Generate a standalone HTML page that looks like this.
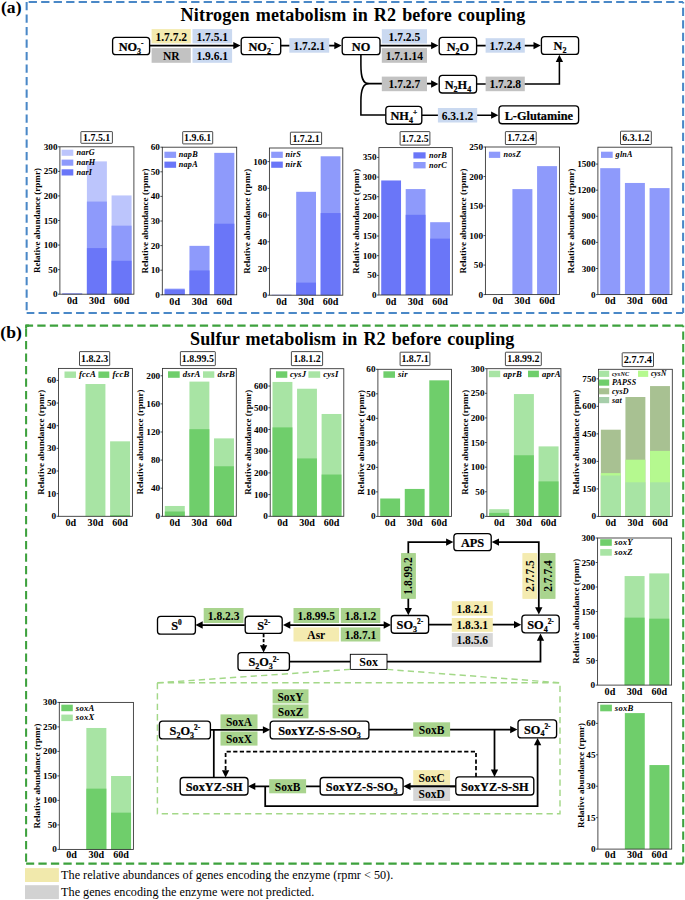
<!DOCTYPE html>
<html><head><meta charset="utf-8"><title>Figure</title>
<style>html,body{margin:0;padding:0;background:#fff;}svg{display:block;}svg text{font-family:"Liberation Serif",serif;}svg text.b{stroke:#000;stroke-width:0.22px;}</style>
</head><body>
<svg width="685" height="900" viewBox="0 0 685 900">
<rect width="685" height="900" fill="#fff"/>
<line x1="26.65" y1="1.95" x2="683.1" y2="1.95" stroke="#4a88c7" stroke-width="2.05" stroke-dasharray="8.3 4.2" stroke-dashoffset="10.5"/>
<line x1="683.1" y1="1.95" x2="683.1" y2="312.9" stroke="#4a88c7" stroke-width="2.05" stroke-dasharray="8.3 4.2" stroke-dashoffset="6.7"/>
<line x1="26.65" y1="312.9" x2="683.1" y2="312.9" stroke="#4a88c7" stroke-width="2.05" stroke-dasharray="8.3 4.2" stroke-dashoffset="0.6"/>
<line x1="26.65" y1="1.95" x2="26.65" y2="312.9" stroke="#4a88c7" stroke-width="2.05" stroke-dasharray="8.3 4.2" stroke-dashoffset="0"/>
<line x1="26.1" y1="325.6" x2="683.2" y2="325.6" stroke="#3da13d" stroke-width="2.05" stroke-dasharray="8.3 4.2" stroke-dashoffset="1.3"/>
<line x1="683.2" y1="325.6" x2="683.2" y2="863.6" stroke="#3da13d" stroke-width="2.05" stroke-dasharray="8.3 4.2" stroke-dashoffset="6.7"/>
<line x1="26.1" y1="863.6" x2="683.2" y2="863.6" stroke="#3da13d" stroke-width="2.05" stroke-dasharray="8.3 4.2" stroke-dashoffset="12.7"/>
<line x1="26.1" y1="325.6" x2="26.1" y2="863.6" stroke="#3da13d" stroke-width="2.05" stroke-dasharray="8.3 4.2" stroke-dashoffset="9.6"/>
<path d="M26.1 328.5 L26.1 325.6 L29 325.6" fill="none" stroke="#3da13d" stroke-width="2.05" />
<text x="1" y="13.3" font-size="17.6" font-weight="bold" font-style="normal" text-anchor="start" fill="#000" >(a)</text>
<text x="0.3" y="338.3" font-size="17.6" font-weight="bold" font-style="normal" text-anchor="start" fill="#000" >(b)</text>
<text x="180.6" y="20.8" font-size="18.1" font-weight="bold" font-style="normal" text-anchor="start" fill="#000" textLength="344.6" lengthAdjust="spacing" word-spacing="1.3">Nitrogen metabolism in R2 before coupling</text>
<text x="190" y="344.7" font-size="18.1" font-weight="bold" font-style="normal" text-anchor="start" fill="#000" textLength="324.4" lengthAdjust="spacing" word-spacing="1.3">Sulfur metabolism in R2 before coupling</text>
<rect x="151.6" y="29.1" width="39.2" height="14.3" fill="#f4ebb0"/>
<text x="171.2" y="40.68" font-size="11.5" font-weight="bold" text-anchor="middle">1.7.7.2</text>
<rect x="192.5" y="29.1" width="39.6" height="14.3" fill="#cad9f0"/>
<text x="212.3" y="40.68" font-size="11.5" font-weight="bold" text-anchor="middle">1.7.5.1</text>
<rect x="151.6" y="48.1" width="39.2" height="14.7" fill="#c2c2c2"/>
<text x="171.2" y="59.88" font-size="11.5" font-weight="bold" text-anchor="middle">NR</text>
<rect x="192.5" y="48.1" width="39.6" height="14.7" fill="#cad9f0"/>
<text x="212.3" y="59.88" font-size="11.5" font-weight="bold" text-anchor="middle">1.9.6.1</text>
<path d="M149.6 45.6 L236 45.6" fill="none" stroke="#000" stroke-width="1.55" />
<polygon points="240.6,45.6 233.3,41.95 233.3,49.25" fill="#000"/>
<path d="M280.7 45.6 L337 45.6" fill="none" stroke="#000" stroke-width="1.55" />
<rect x="289.3" y="38.2" width="39.9" height="14.5" fill="#cad9f0"/>
<text x="309.25" y="49.88" font-size="11.5" font-weight="bold" text-anchor="middle">1.7.2.1</text>
<polygon points="341.6,45.6 334.3,41.95 334.3,49.25" fill="#000"/>
<rect x="381.8" y="29.2" width="45.2" height="14.4" fill="#cad9f0"/>
<text x="404.4" y="40.83" font-size="11.5" font-weight="bold" text-anchor="middle">1.7.2.5</text>
<rect x="381.8" y="48.1" width="45.2" height="14.7" fill="#c2c2c2"/>
<text x="404.4" y="59.88" font-size="11.5" font-weight="bold" text-anchor="middle">1.7.1.14</text>
<path d="M380 45.6 L434 45.6" fill="none" stroke="#000" stroke-width="1.55" />
<polygon points="438.4,45.6 431.1,41.95 431.1,49.25" fill="#000"/>
<path d="M475.5 45.6 L536 45.6" fill="none" stroke="#000" stroke-width="1.55" />
<rect x="485.6" y="38.2" width="39.2" height="14.5" fill="#cad9f0"/>
<text x="505.2" y="49.88" font-size="11.5" font-weight="bold" text-anchor="middle">1.7.2.4</text>
<polygon points="540.8,45.6 533.5,41.95 533.5,49.25" fill="#000"/>
<path d="M360.9 54.6 L360.9 65 C360.9 78 363 83.6 368.5 83.6 L434 83.6" fill="none" stroke="#000" stroke-width="1.55"/>
<path d="M368.5 83.6 C363 83.6 360.9 89 360.9 101 L360.9 114.9 L386 114.9" fill="none" stroke="#000" stroke-width="1.55"/>
<rect x="381.8" y="76.6" width="45.2" height="14.6" fill="#c2c2c2"/>
<text x="404.4" y="88.33" font-size="11.5" font-weight="bold" text-anchor="middle">1.7.2.7</text>
<polygon points="438.4,84 431.1,80.35 431.1,87.65" fill="#000"/>
<path d="M475.5 84 L559.4 84 L559.4 60" fill="none" stroke="#000" stroke-width="1.55" />
<rect x="485.6" y="76.6" width="39.2" height="14.6" fill="#c2c2c2"/>
<text x="505.2" y="88.33" font-size="11.5" font-weight="bold" text-anchor="middle">1.7.2.8</text>
<polygon points="559.4,54.7 555.75,62 563.05,62" fill="#000"/>
<path d="M421.8 115.2 L494 115.2" fill="none" stroke="#000" stroke-width="1.55" />
<rect x="437.9" y="108" width="39.3" height="14.5" fill="#cad9f0"/>
<text x="457.55" y="119.68" font-size="11.5" font-weight="bold" text-anchor="middle">6.3.1.2</text>
<polygon points="498.4,115.2 491.1,111.55 491.1,118.85" fill="#000"/>
<rect x="112.6" y="37.3" width="37" height="17.3" rx="3.2" ry="3.2" fill="#fff" stroke="#000" stroke-width="1.35"/>
<text class="b" x="131.1" y="50.87" font-size="12.3" font-weight="bold" text-anchor="middle"><tspan dy="0" font-size="12.3">NO</tspan><tspan dy="2.71" font-size="8">3</tspan><tspan dy="-7.63" font-size="7.38">-</tspan></text>
<rect x="241.2" y="37.3" width="39.5" height="17.3" rx="3.2" ry="3.2" fill="#fff" stroke="#000" stroke-width="1.35"/>
<text class="b" x="260.95" y="50.87" font-size="12.3" font-weight="bold" text-anchor="middle"><tspan dy="0" font-size="12.3">NO</tspan><tspan dy="2.71" font-size="8">2</tspan><tspan dy="-7.63" font-size="7.38">-</tspan></text>
<rect x="342.2" y="37.3" width="37.8" height="17.3" rx="3.2" ry="3.2" fill="#fff" stroke="#000" stroke-width="1.35"/>
<text class="b" x="361.1" y="50.87" font-size="12.3" font-weight="bold" text-anchor="middle"><tspan dy="0" font-size="12.3">NO</tspan></text>
<rect x="439.2" y="37.3" width="37.4" height="17.3" rx="3.2" ry="3.2" fill="#fff" stroke="#000" stroke-width="1.35"/>
<text class="b" x="457.9" y="50.87" font-size="12.3" font-weight="bold" text-anchor="middle"><tspan dy="0" font-size="12.3">N</tspan><tspan dy="2.71" font-size="8">2</tspan><tspan dy="-2.71" font-size="12.3">O</tspan></text>
<rect x="541.4" y="36.6" width="37.2" height="17.8" rx="3.2" ry="3.2" fill="#fff" stroke="#000" stroke-width="1.35"/>
<text class="b" x="560" y="50.42" font-size="12.3" font-weight="bold" text-anchor="middle"><tspan dy="0" font-size="12.3">N</tspan><tspan dy="2.71" font-size="8">2</tspan></text>
<rect x="439.2" y="75.3" width="37.4" height="17.7" rx="3.2" ry="3.2" fill="#fff" stroke="#000" stroke-width="1.35"/>
<text class="b" x="457.9" y="89.07" font-size="12.3" font-weight="bold" text-anchor="middle"><tspan dy="0" font-size="12.3">N</tspan><tspan dy="2.71" font-size="8">2</tspan><tspan dy="-2.71" font-size="12.3">H</tspan><tspan dy="2.71" font-size="8">4</tspan></text>
<rect x="385.8" y="106.4" width="36" height="17.8" rx="3.2" ry="3.2" fill="#fff" stroke="#000" stroke-width="1.35"/>
<text class="b" x="403.8" y="120.22" font-size="12.3" font-weight="bold" text-anchor="middle"><tspan dy="0" font-size="12.3">NH</tspan><tspan dy="2.71" font-size="8">4</tspan><tspan dy="-7.63" font-size="7.38">+</tspan></text>
<rect x="499" y="105.9" width="79.6" height="17.8" rx="3.2" ry="3.2" fill="#fff" stroke="#000" stroke-width="1.35"/>
<text class="b" x="538.8" y="119.72" font-size="12.3" font-weight="bold" text-anchor="middle"><tspan dy="0" font-size="12.3">L-Glutamine</tspan></text>
<rect x="62.24" y="293.41" width="19.98" height="0.79" fill="#8e9afb"/>
<rect x="62.24" y="293.71" width="19.98" height="0.49" fill="#6a76f8"/>
<rect x="86.91" y="161.39" width="19.98" height="132.81" fill="#bcc5fc"/>
<rect x="86.91" y="201.58" width="19.98" height="92.62" fill="#8e9afb"/>
<rect x="86.91" y="248.11" width="19.98" height="46.09" fill="#6a76f8"/>
<rect x="111.58" y="195.44" width="19.98" height="98.76" fill="#bcc5fc"/>
<rect x="111.58" y="225.66" width="19.98" height="68.54" fill="#8e9afb"/>
<rect x="111.58" y="260.79" width="19.98" height="33.41" fill="#6a76f8"/>
<rect x="59.9" y="146.8" width="74" height="147.4" fill="none" stroke="#2e2e2e" stroke-width="0.85"/>
<line x1="58" y1="294.2" x2="59.9" y2="294.2" stroke="#262626" stroke-width="0.8"/>
<text x="57.5" y="297.24" font-size="9.2" font-weight="bold" font-style="normal" text-anchor="end" fill="#000" >0</text>
<line x1="58" y1="269.63" x2="59.9" y2="269.63" stroke="#262626" stroke-width="0.8"/>
<text x="57.5" y="272.67" font-size="9.2" font-weight="bold" font-style="normal" text-anchor="end" fill="#000" >50</text>
<line x1="58" y1="245.07" x2="59.9" y2="245.07" stroke="#262626" stroke-width="0.8"/>
<text x="57.5" y="248.1" font-size="9.2" font-weight="bold" font-style="normal" text-anchor="end" fill="#000" >100</text>
<line x1="58" y1="220.5" x2="59.9" y2="220.5" stroke="#262626" stroke-width="0.8"/>
<text x="57.5" y="223.54" font-size="9.2" font-weight="bold" font-style="normal" text-anchor="end" fill="#000" >150</text>
<line x1="58" y1="195.93" x2="59.9" y2="195.93" stroke="#262626" stroke-width="0.8"/>
<text x="57.5" y="198.97" font-size="9.2" font-weight="bold" font-style="normal" text-anchor="end" fill="#000" >200</text>
<line x1="58" y1="171.37" x2="59.9" y2="171.37" stroke="#262626" stroke-width="0.8"/>
<text x="57.5" y="174.4" font-size="9.2" font-weight="bold" font-style="normal" text-anchor="end" fill="#000" >250</text>
<line x1="58" y1="146.8" x2="59.9" y2="146.8" stroke="#262626" stroke-width="0.8"/>
<text x="57.5" y="149.84" font-size="9.2" font-weight="bold" font-style="normal" text-anchor="end" fill="#000" >300</text>
<text x="72.23" y="303.9" font-size="10.1" font-weight="bold" font-style="normal" text-anchor="middle" fill="#000" >0d</text>
<text x="96.9" y="303.9" font-size="10.1" font-weight="bold" font-style="normal" text-anchor="middle" fill="#000" >30d</text>
<text x="121.57" y="303.9" font-size="10.1" font-weight="bold" font-style="normal" text-anchor="middle" fill="#000" >60d</text>
<text transform="translate(40.42,220.6) rotate(-90)" font-size="9.05" font-weight="bold" text-anchor="middle">Relative abundance (rpmr)</text>
<rect x="80.9" y="131.6" width="31.5" height="11.7" rx="0.5" fill="#fff" stroke="#2a2a2a" stroke-width="0.85"/>
<text x="96.65" y="140.72" font-size="9.9" font-weight="bold" font-style="normal" text-anchor="middle" fill="#000" >1.7.5.1</text>
<rect x="61.6" y="149.7" width="11.7" height="6.1" fill="#bcc5fc"/>
<text x="76.4" y="155.21" font-size="8.2" font-weight="bold" font-style="italic" text-anchor="start" fill="#000" letter-spacing="0.2">narG</text>
<rect x="61.6" y="159.6" width="11.7" height="6.1" fill="#8e9afb"/>
<text x="76.4" y="165.11" font-size="8.2" font-weight="bold" font-style="italic" text-anchor="start" fill="#000" letter-spacing="0.2">narH</text>
<rect x="61.6" y="169.3" width="11.7" height="6.2" fill="#6a76f8"/>
<text x="76.4" y="174.86" font-size="8.2" font-weight="bold" font-style="italic" text-anchor="start" fill="#000" letter-spacing="0.2">narI</text>
<rect x="164.66" y="288.65" width="20.09" height="6.15" fill="#8e9afb"/>
<rect x="164.66" y="289.63" width="20.09" height="5.17" fill="#6a76f8"/>
<rect x="189.46" y="245.85" width="20.09" height="48.95" fill="#8e9afb"/>
<rect x="189.46" y="270.45" width="20.09" height="24.35" fill="#6a76f8"/>
<rect x="214.26" y="152.86" width="20.09" height="141.94" fill="#8e9afb"/>
<rect x="214.26" y="223.71" width="20.09" height="71.09" fill="#6a76f8"/>
<rect x="162.3" y="147.2" width="74.4" height="147.6" fill="none" stroke="#2e2e2e" stroke-width="0.85"/>
<line x1="160.4" y1="294.8" x2="162.3" y2="294.8" stroke="#262626" stroke-width="0.8"/>
<text x="159.9" y="297.84" font-size="9.2" font-weight="bold" font-style="normal" text-anchor="end" fill="#000" >0</text>
<line x1="160.4" y1="270.2" x2="162.3" y2="270.2" stroke="#262626" stroke-width="0.8"/>
<text x="159.9" y="273.24" font-size="9.2" font-weight="bold" font-style="normal" text-anchor="end" fill="#000" >10</text>
<line x1="160.4" y1="245.6" x2="162.3" y2="245.6" stroke="#262626" stroke-width="0.8"/>
<text x="159.9" y="248.64" font-size="9.2" font-weight="bold" font-style="normal" text-anchor="end" fill="#000" >20</text>
<line x1="160.4" y1="221" x2="162.3" y2="221" stroke="#262626" stroke-width="0.8"/>
<text x="159.9" y="224.04" font-size="9.2" font-weight="bold" font-style="normal" text-anchor="end" fill="#000" >30</text>
<line x1="160.4" y1="196.4" x2="162.3" y2="196.4" stroke="#262626" stroke-width="0.8"/>
<text x="159.9" y="199.44" font-size="9.2" font-weight="bold" font-style="normal" text-anchor="end" fill="#000" >40</text>
<line x1="160.4" y1="171.8" x2="162.3" y2="171.8" stroke="#262626" stroke-width="0.8"/>
<text x="159.9" y="174.84" font-size="9.2" font-weight="bold" font-style="normal" text-anchor="end" fill="#000" >50</text>
<line x1="160.4" y1="147.2" x2="162.3" y2="147.2" stroke="#262626" stroke-width="0.8"/>
<text x="159.9" y="150.24" font-size="9.2" font-weight="bold" font-style="normal" text-anchor="end" fill="#000" >60</text>
<text x="174.7" y="304.5" font-size="10.1" font-weight="bold" font-style="normal" text-anchor="middle" fill="#000" >0d</text>
<text x="199.5" y="304.5" font-size="10.1" font-weight="bold" font-style="normal" text-anchor="middle" fill="#000" >30d</text>
<text x="224.3" y="304.5" font-size="10.1" font-weight="bold" font-style="normal" text-anchor="middle" fill="#000" >60d</text>
<text transform="translate(148.02,221) rotate(-90)" font-size="9.05" font-weight="bold" text-anchor="middle">Relative abundance (rpmr)</text>
<rect x="182.7" y="131.6" width="30" height="12.3" rx="0.5" fill="#fff" stroke="#2a2a2a" stroke-width="0.85"/>
<text x="197.7" y="141.02" font-size="9.9" font-weight="bold" font-style="normal" text-anchor="middle" fill="#000" >1.9.6.1</text>
<rect x="164.4" y="151.7" width="11.7" height="6.2" fill="#8e9afb"/>
<text x="178.8" y="157.26" font-size="8.2" font-weight="bold" font-style="italic" text-anchor="start" fill="#000" letter-spacing="0.2">napB</text>
<rect x="164.4" y="161.6" width="11.7" height="6.2" fill="#6a76f8"/>
<text x="178.8" y="167.16" font-size="8.2" font-weight="bold" font-style="italic" text-anchor="start" fill="#000" letter-spacing="0.2">napA</text>
<rect x="271.72" y="294.8" width="19.82" height="0.4" fill="#6a76f8"/>
<rect x="296.19" y="191.81" width="19.82" height="103.39" fill="#8e9afb"/>
<rect x="296.19" y="282.64" width="19.82" height="12.56" fill="#6a76f8"/>
<rect x="320.66" y="156.28" width="19.82" height="138.92" fill="#8e9afb"/>
<rect x="320.66" y="213.05" width="19.82" height="82.15" fill="#6a76f8"/>
<rect x="269.4" y="148" width="73.4" height="147.2" fill="none" stroke="#2e2e2e" stroke-width="0.85"/>
<line x1="267.5" y1="295.2" x2="269.4" y2="295.2" stroke="#262626" stroke-width="0.8"/>
<text x="267" y="298.24" font-size="9.2" font-weight="bold" font-style="normal" text-anchor="end" fill="#000" >0</text>
<line x1="267.5" y1="268.48" x2="269.4" y2="268.48" stroke="#262626" stroke-width="0.8"/>
<text x="267" y="271.52" font-size="9.2" font-weight="bold" font-style="normal" text-anchor="end" fill="#000" >20</text>
<line x1="267.5" y1="241.77" x2="269.4" y2="241.77" stroke="#262626" stroke-width="0.8"/>
<text x="267" y="244.81" font-size="9.2" font-weight="bold" font-style="normal" text-anchor="end" fill="#000" >40</text>
<line x1="267.5" y1="215.05" x2="269.4" y2="215.05" stroke="#262626" stroke-width="0.8"/>
<text x="267" y="218.09" font-size="9.2" font-weight="bold" font-style="normal" text-anchor="end" fill="#000" >60</text>
<line x1="267.5" y1="188.34" x2="269.4" y2="188.34" stroke="#262626" stroke-width="0.8"/>
<text x="267" y="191.38" font-size="9.2" font-weight="bold" font-style="normal" text-anchor="end" fill="#000" >80</text>
<line x1="267.5" y1="161.62" x2="269.4" y2="161.62" stroke="#262626" stroke-width="0.8"/>
<text x="267" y="164.66" font-size="9.2" font-weight="bold" font-style="normal" text-anchor="end" fill="#000" >100</text>
<text x="281.63" y="304.9" font-size="10.1" font-weight="bold" font-style="normal" text-anchor="middle" fill="#000" >0d</text>
<text x="306.1" y="304.9" font-size="10.1" font-weight="bold" font-style="normal" text-anchor="middle" fill="#000" >30d</text>
<text x="330.57" y="304.9" font-size="10.1" font-weight="bold" font-style="normal" text-anchor="middle" fill="#000" >60d</text>
<text transform="translate(250.22,221.3) rotate(-90)" font-size="9.05" font-weight="bold" text-anchor="middle">Relative abundance (rpmr)</text>
<rect x="290.4" y="132.2" width="31.2" height="12.3" rx="0.5" fill="#fff" stroke="#2a2a2a" stroke-width="0.85"/>
<text x="306" y="141.62" font-size="9.9" font-weight="bold" font-style="normal" text-anchor="middle" fill="#000" >1.7.2.1</text>
<rect x="271.2" y="151.7" width="11.6" height="6.2" fill="#8e9afb"/>
<text x="285.6" y="157.26" font-size="8.2" font-weight="bold" font-style="italic" text-anchor="start" fill="#000" letter-spacing="0.2">nirS</text>
<rect x="271.2" y="161.6" width="11.6" height="6.2" fill="#6a76f8"/>
<text x="285.6" y="167.16" font-size="8.2" font-weight="bold" font-style="italic" text-anchor="start" fill="#000" letter-spacing="0.2">nirK</text>
<rect x="381.22" y="180.46" width="19.82" height="114.54" fill="#6a76f8"/>
<rect x="405.69" y="189.07" width="19.82" height="105.93" fill="#8e9afb"/>
<rect x="405.69" y="214.81" width="19.82" height="80.19" fill="#6a76f8"/>
<rect x="430.16" y="222.2" width="19.82" height="72.8" fill="#8e9afb"/>
<rect x="430.16" y="238.63" width="19.82" height="56.37" fill="#6a76f8"/>
<rect x="378.9" y="147.6" width="73.4" height="147.4" fill="none" stroke="#2e2e2e" stroke-width="0.85"/>
<line x1="377" y1="295" x2="378.9" y2="295" stroke="#262626" stroke-width="0.8"/>
<text x="376.5" y="298.04" font-size="9.2" font-weight="bold" font-style="normal" text-anchor="end" fill="#000" >0</text>
<line x1="377" y1="275.35" x2="378.9" y2="275.35" stroke="#262626" stroke-width="0.8"/>
<text x="376.5" y="278.38" font-size="9.2" font-weight="bold" font-style="normal" text-anchor="end" fill="#000" >50</text>
<line x1="377" y1="255.69" x2="378.9" y2="255.69" stroke="#262626" stroke-width="0.8"/>
<text x="376.5" y="258.73" font-size="9.2" font-weight="bold" font-style="normal" text-anchor="end" fill="#000" >100</text>
<line x1="377" y1="236.04" x2="378.9" y2="236.04" stroke="#262626" stroke-width="0.8"/>
<text x="376.5" y="239.08" font-size="9.2" font-weight="bold" font-style="normal" text-anchor="end" fill="#000" >150</text>
<line x1="377" y1="216.39" x2="378.9" y2="216.39" stroke="#262626" stroke-width="0.8"/>
<text x="376.5" y="219.42" font-size="9.2" font-weight="bold" font-style="normal" text-anchor="end" fill="#000" >200</text>
<line x1="377" y1="196.73" x2="378.9" y2="196.73" stroke="#262626" stroke-width="0.8"/>
<text x="376.5" y="199.77" font-size="9.2" font-weight="bold" font-style="normal" text-anchor="end" fill="#000" >250</text>
<line x1="377" y1="177.08" x2="378.9" y2="177.08" stroke="#262626" stroke-width="0.8"/>
<text x="376.5" y="180.12" font-size="9.2" font-weight="bold" font-style="normal" text-anchor="end" fill="#000" >300</text>
<line x1="377" y1="157.43" x2="378.9" y2="157.43" stroke="#262626" stroke-width="0.8"/>
<text x="376.5" y="160.46" font-size="9.2" font-weight="bold" font-style="normal" text-anchor="end" fill="#000" >350</text>
<text x="391.13" y="304.7" font-size="10.1" font-weight="bold" font-style="normal" text-anchor="middle" fill="#000" >0d</text>
<text x="415.6" y="304.7" font-size="10.1" font-weight="bold" font-style="normal" text-anchor="middle" fill="#000" >30d</text>
<text x="440.07" y="304.7" font-size="10.1" font-weight="bold" font-style="normal" text-anchor="middle" fill="#000" >60d</text>
<text transform="translate(359.41,221.2) rotate(-90)" font-size="9.05" font-weight="bold" text-anchor="middle">Relative abundance (rpmr)</text>
<rect x="400.1" y="131.6" width="29.8" height="13.5" rx="0.5" fill="#fff" stroke="#2a2a2a" stroke-width="0.85"/>
<text x="415" y="141.62" font-size="9.9" font-weight="bold" font-style="normal" text-anchor="middle" fill="#000" >1.7.2.5</text>
<rect x="413.4" y="152.3" width="12.2" height="6.2" fill="#6a76f8"/>
<text x="428.9" y="157.86" font-size="8.2" font-weight="bold" font-style="italic" text-anchor="start" fill="#000" letter-spacing="0.2">norB</text>
<rect x="413.4" y="162" width="12.2" height="6.4" fill="#8e9afb"/>
<text x="428.9" y="167.66" font-size="8.2" font-weight="bold" font-style="italic" text-anchor="start" fill="#000" letter-spacing="0.2">norC</text>
<rect x="512.41" y="189.1" width="19.98" height="105.5" fill="#8e9afb"/>
<rect x="537.08" y="166.13" width="19.98" height="128.47" fill="#8e9afb"/>
<rect x="485.4" y="147" width="74" height="147.6" fill="none" stroke="#2e2e2e" stroke-width="0.85"/>
<line x1="483.5" y1="294.6" x2="485.4" y2="294.6" stroke="#262626" stroke-width="0.8"/>
<text x="483" y="297.64" font-size="9.2" font-weight="bold" font-style="normal" text-anchor="end" fill="#000" >0</text>
<line x1="483.5" y1="265.08" x2="485.4" y2="265.08" stroke="#262626" stroke-width="0.8"/>
<text x="483" y="268.12" font-size="9.2" font-weight="bold" font-style="normal" text-anchor="end" fill="#000" >50</text>
<line x1="483.5" y1="235.56" x2="485.4" y2="235.56" stroke="#262626" stroke-width="0.8"/>
<text x="483" y="238.6" font-size="9.2" font-weight="bold" font-style="normal" text-anchor="end" fill="#000" >100</text>
<line x1="483.5" y1="206.04" x2="485.4" y2="206.04" stroke="#262626" stroke-width="0.8"/>
<text x="483" y="209.08" font-size="9.2" font-weight="bold" font-style="normal" text-anchor="end" fill="#000" >150</text>
<line x1="483.5" y1="176.52" x2="485.4" y2="176.52" stroke="#262626" stroke-width="0.8"/>
<text x="483" y="179.56" font-size="9.2" font-weight="bold" font-style="normal" text-anchor="end" fill="#000" >200</text>
<line x1="483.5" y1="147" x2="485.4" y2="147" stroke="#262626" stroke-width="0.8"/>
<text x="483" y="150.04" font-size="9.2" font-weight="bold" font-style="normal" text-anchor="end" fill="#000" >250</text>
<text x="497.73" y="304.3" font-size="10.1" font-weight="bold" font-style="normal" text-anchor="middle" fill="#000" >0d</text>
<text x="522.4" y="304.3" font-size="10.1" font-weight="bold" font-style="normal" text-anchor="middle" fill="#000" >30d</text>
<text x="547.07" y="304.3" font-size="10.1" font-weight="bold" font-style="normal" text-anchor="middle" fill="#000" >60d</text>
<text transform="translate(465.91,221) rotate(-90)" font-size="9.05" font-weight="bold" text-anchor="middle">Relative abundance (rpmr)</text>
<rect x="505.4" y="131.6" width="30.8" height="12.9" rx="0.5" fill="#fff" stroke="#2a2a2a" stroke-width="0.85"/>
<text x="520.8" y="141.32" font-size="9.9" font-weight="bold" font-style="normal" text-anchor="middle" fill="#000" >1.7.2.4</text>
<rect x="488.9" y="151.7" width="11.3" height="6.2" fill="#8e9afb"/>
<text x="503.5" y="157.26" font-size="8.2" font-weight="bold" font-style="italic" text-anchor="start" fill="#000" letter-spacing="0.2">nosZ</text>
<rect x="600.24" y="168.17" width="19.98" height="126.43" fill="#8e9afb"/>
<rect x="624.91" y="182.96" width="19.98" height="111.64" fill="#8e9afb"/>
<rect x="649.58" y="188.1" width="19.98" height="106.5" fill="#8e9afb"/>
<rect x="597.9" y="147.2" width="74" height="147.4" fill="none" stroke="#2e2e2e" stroke-width="0.85"/>
<line x1="596" y1="294.6" x2="597.9" y2="294.6" stroke="#262626" stroke-width="0.8"/>
<text x="595.5" y="297.64" font-size="9.2" font-weight="bold" font-style="normal" text-anchor="end" fill="#000" >0</text>
<line x1="596" y1="268.5" x2="597.9" y2="268.5" stroke="#262626" stroke-width="0.8"/>
<text x="595.5" y="271.53" font-size="9.2" font-weight="bold" font-style="normal" text-anchor="end" fill="#000" >300</text>
<line x1="596" y1="242.39" x2="597.9" y2="242.39" stroke="#262626" stroke-width="0.8"/>
<text x="595.5" y="245.43" font-size="9.2" font-weight="bold" font-style="normal" text-anchor="end" fill="#000" >600</text>
<line x1="596" y1="216.29" x2="597.9" y2="216.29" stroke="#262626" stroke-width="0.8"/>
<text x="595.5" y="219.32" font-size="9.2" font-weight="bold" font-style="normal" text-anchor="end" fill="#000" >900</text>
<line x1="596" y1="190.18" x2="597.9" y2="190.18" stroke="#262626" stroke-width="0.8"/>
<text x="595.5" y="193.22" font-size="9.2" font-weight="bold" font-style="normal" text-anchor="end" fill="#000" >1200</text>
<line x1="596" y1="164.08" x2="597.9" y2="164.08" stroke="#262626" stroke-width="0.8"/>
<text x="595.5" y="167.12" font-size="9.2" font-weight="bold" font-style="normal" text-anchor="end" fill="#000" >1500</text>
<text x="610.23" y="304.3" font-size="10.1" font-weight="bold" font-style="normal" text-anchor="middle" fill="#000" >0d</text>
<text x="634.9" y="304.3" font-size="10.1" font-weight="bold" font-style="normal" text-anchor="middle" fill="#000" >30d</text>
<text x="659.57" y="304.3" font-size="10.1" font-weight="bold" font-style="normal" text-anchor="middle" fill="#000" >60d</text>
<text transform="translate(573.92,221) rotate(-90)" font-size="9.05" font-weight="bold" text-anchor="middle">Relative abundance (rpmr)</text>
<rect x="620.5" y="131.2" width="30.8" height="13.3" rx="0.5" fill="#fff" stroke="#2a2a2a" stroke-width="0.85"/>
<text x="635.9" y="141.12" font-size="9.9" font-weight="bold" font-style="normal" text-anchor="middle" fill="#000" >6.3.1.2</text>
<rect x="601" y="151.7" width="11.7" height="6.2" fill="#8e9afb"/>
<text x="615.6" y="157.26" font-size="8.2" font-weight="bold" font-style="italic" text-anchor="start" fill="#000" letter-spacing="0.2">glnA</text>
<rect x="85.47" y="384.03" width="19.95" height="132.27" fill="#a8e4a4"/>
<rect x="110.11" y="441.33" width="19.95" height="74.97" fill="#a8e4a4"/>
<rect x="110.11" y="515.17" width="19.95" height="1.13" fill="#6fce6b"/>
<rect x="58.5" y="368.4" width="73.9" height="147.9" fill="none" stroke="#2e2e2e" stroke-width="0.85"/>
<line x1="56.6" y1="516.3" x2="58.5" y2="516.3" stroke="#262626" stroke-width="0.8"/>
<text x="56.1" y="519.34" font-size="9.2" font-weight="bold" font-style="normal" text-anchor="end" fill="#000" >0</text>
<line x1="56.6" y1="493.65" x2="58.5" y2="493.65" stroke="#262626" stroke-width="0.8"/>
<text x="56.1" y="496.69" font-size="9.2" font-weight="bold" font-style="normal" text-anchor="end" fill="#000" >10</text>
<line x1="56.6" y1="471" x2="58.5" y2="471" stroke="#262626" stroke-width="0.8"/>
<text x="56.1" y="474.04" font-size="9.2" font-weight="bold" font-style="normal" text-anchor="end" fill="#000" >20</text>
<line x1="56.6" y1="448.35" x2="58.5" y2="448.35" stroke="#262626" stroke-width="0.8"/>
<text x="56.1" y="451.39" font-size="9.2" font-weight="bold" font-style="normal" text-anchor="end" fill="#000" >30</text>
<line x1="56.6" y1="425.7" x2="58.5" y2="425.7" stroke="#262626" stroke-width="0.8"/>
<text x="56.1" y="428.74" font-size="9.2" font-weight="bold" font-style="normal" text-anchor="end" fill="#000" >40</text>
<line x1="56.6" y1="403.05" x2="58.5" y2="403.05" stroke="#262626" stroke-width="0.8"/>
<text x="56.1" y="406.09" font-size="9.2" font-weight="bold" font-style="normal" text-anchor="end" fill="#000" >50</text>
<line x1="56.6" y1="380.4" x2="58.5" y2="380.4" stroke="#262626" stroke-width="0.8"/>
<text x="56.1" y="383.44" font-size="9.2" font-weight="bold" font-style="normal" text-anchor="end" fill="#000" >60</text>
<text x="70.82" y="526.3" font-size="10.1" font-weight="bold" font-style="normal" text-anchor="middle" fill="#000" >0d</text>
<text x="95.45" y="526.3" font-size="10.1" font-weight="bold" font-style="normal" text-anchor="middle" fill="#000" >30d</text>
<text x="120.08" y="526.3" font-size="10.1" font-weight="bold" font-style="normal" text-anchor="middle" fill="#000" >60d</text>
<text transform="translate(44.12,442.2) rotate(-90)" font-size="9.05" font-weight="bold" text-anchor="middle">Relative abundance (rpmr)</text>
<rect x="79.5" y="351.6" width="30.2" height="14" rx="0.5" fill="#fff" stroke="#2a2a2a" stroke-width="0.85"/>
<text x="94.6" y="361.87" font-size="9.9" font-weight="bold" font-style="normal" text-anchor="middle" fill="#000" >1.8.2.3</text>
<rect x="64.5" y="371.5" width="11.5" height="6.4" fill="#a8e4a4"/>
<text x="78.9" y="377.31" font-size="8.7" font-weight="bold" font-style="italic" text-anchor="start" fill="#000" letter-spacing="0.2">fccA</text>
<rect x="98.4" y="371.5" width="10.9" height="6.4" fill="#6fce6b"/>
<text x="112.4" y="377.31" font-size="8.7" font-weight="bold" font-style="italic" text-anchor="start" fill="#000" letter-spacing="0.2">fccB</text>
<rect x="164.84" y="505.97" width="19.93" height="10.33" fill="#a8e4a4"/>
<rect x="164.84" y="511.52" width="19.93" height="4.78" fill="#6fce6b"/>
<rect x="189.44" y="381.61" width="19.93" height="134.69" fill="#a8e4a4"/>
<rect x="189.44" y="429.18" width="19.93" height="87.12" fill="#6fce6b"/>
<rect x="214.04" y="438.38" width="19.93" height="77.92" fill="#a8e4a4"/>
<rect x="214.04" y="466.27" width="19.93" height="50.03" fill="#6fce6b"/>
<rect x="162.5" y="368.4" width="73.8" height="147.9" fill="none" stroke="#2e2e2e" stroke-width="0.85"/>
<line x1="160.6" y1="516.3" x2="162.5" y2="516.3" stroke="#262626" stroke-width="0.8"/>
<text x="160.1" y="519.34" font-size="9.2" font-weight="bold" font-style="normal" text-anchor="end" fill="#000" >0</text>
<line x1="160.6" y1="488.2" x2="162.5" y2="488.2" stroke="#262626" stroke-width="0.8"/>
<text x="160.1" y="491.23" font-size="9.2" font-weight="bold" font-style="normal" text-anchor="end" fill="#000" >40</text>
<line x1="160.6" y1="460.09" x2="162.5" y2="460.09" stroke="#262626" stroke-width="0.8"/>
<text x="160.1" y="463.13" font-size="9.2" font-weight="bold" font-style="normal" text-anchor="end" fill="#000" >80</text>
<line x1="160.6" y1="431.99" x2="162.5" y2="431.99" stroke="#262626" stroke-width="0.8"/>
<text x="160.1" y="435.02" font-size="9.2" font-weight="bold" font-style="normal" text-anchor="end" fill="#000" >120</text>
<line x1="160.6" y1="403.88" x2="162.5" y2="403.88" stroke="#262626" stroke-width="0.8"/>
<text x="160.1" y="406.92" font-size="9.2" font-weight="bold" font-style="normal" text-anchor="end" fill="#000" >160</text>
<line x1="160.6" y1="375.78" x2="162.5" y2="375.78" stroke="#262626" stroke-width="0.8"/>
<text x="160.1" y="378.81" font-size="9.2" font-weight="bold" font-style="normal" text-anchor="end" fill="#000" >200</text>
<text x="174.8" y="526.3" font-size="10.1" font-weight="bold" font-style="normal" text-anchor="middle" fill="#000" >0d</text>
<text x="199.4" y="526.3" font-size="10.1" font-weight="bold" font-style="normal" text-anchor="middle" fill="#000" >30d</text>
<text x="224" y="526.3" font-size="10.1" font-weight="bold" font-style="normal" text-anchor="middle" fill="#000" >60d</text>
<text transform="translate(143.02,442) rotate(-90)" font-size="9.05" font-weight="bold" text-anchor="middle">Relative abundance (rpmr)</text>
<rect x="180.4" y="351.6" width="34.9" height="14" rx="0.5" fill="#fff" stroke="#2a2a2a" stroke-width="0.85"/>
<text x="197.85" y="361.87" font-size="9.9" font-weight="bold" font-style="normal" text-anchor="middle" fill="#000" >1.8.99.5</text>
<rect x="168" y="371.3" width="11.7" height="6.5" fill="#6fce6b"/>
<text x="182.8" y="377.16" font-size="8.7" font-weight="bold" font-style="italic" text-anchor="start" fill="#000" letter-spacing="0.2">dsrA</text>
<rect x="203" y="371.3" width="11.3" height="6.5" fill="#a8e4a4"/>
<text x="217.4" y="377.16" font-size="8.7" font-weight="bold" font-style="italic" text-anchor="start" fill="#000" letter-spacing="0.2">dsrB</text>
<rect x="272.53" y="381.94" width="19.87" height="134.36" fill="#a8e4a4"/>
<rect x="272.53" y="427.39" width="19.87" height="88.91" fill="#6fce6b"/>
<rect x="297.06" y="388.73" width="19.87" height="127.57" fill="#a8e4a4"/>
<rect x="297.06" y="458.43" width="19.87" height="57.87" fill="#6fce6b"/>
<rect x="321.6" y="413.98" width="19.87" height="102.32" fill="#a8e4a4"/>
<rect x="321.6" y="474.54" width="19.87" height="41.76" fill="#6fce6b"/>
<rect x="270.2" y="368.7" width="73.6" height="147.6" fill="none" stroke="#2e2e2e" stroke-width="0.85"/>
<line x1="268.3" y1="516.3" x2="270.2" y2="516.3" stroke="#262626" stroke-width="0.8"/>
<text x="267.8" y="519.34" font-size="9.2" font-weight="bold" font-style="normal" text-anchor="end" fill="#000" >0</text>
<line x1="268.3" y1="494.59" x2="270.2" y2="494.59" stroke="#262626" stroke-width="0.8"/>
<text x="267.8" y="497.63" font-size="9.2" font-weight="bold" font-style="normal" text-anchor="end" fill="#000" >100</text>
<line x1="268.3" y1="472.89" x2="270.2" y2="472.89" stroke="#262626" stroke-width="0.8"/>
<text x="267.8" y="475.92" font-size="9.2" font-weight="bold" font-style="normal" text-anchor="end" fill="#000" >200</text>
<line x1="268.3" y1="451.18" x2="270.2" y2="451.18" stroke="#262626" stroke-width="0.8"/>
<text x="267.8" y="454.22" font-size="9.2" font-weight="bold" font-style="normal" text-anchor="end" fill="#000" >300</text>
<line x1="268.3" y1="429.48" x2="270.2" y2="429.48" stroke="#262626" stroke-width="0.8"/>
<text x="267.8" y="432.51" font-size="9.2" font-weight="bold" font-style="normal" text-anchor="end" fill="#000" >400</text>
<line x1="268.3" y1="407.77" x2="270.2" y2="407.77" stroke="#262626" stroke-width="0.8"/>
<text x="267.8" y="410.81" font-size="9.2" font-weight="bold" font-style="normal" text-anchor="end" fill="#000" >500</text>
<line x1="268.3" y1="386.06" x2="270.2" y2="386.06" stroke="#262626" stroke-width="0.8"/>
<text x="267.8" y="389.1" font-size="9.2" font-weight="bold" font-style="normal" text-anchor="end" fill="#000" >600</text>
<text x="282.47" y="526.3" font-size="10.1" font-weight="bold" font-style="normal" text-anchor="middle" fill="#000" >0d</text>
<text x="307" y="526.3" font-size="10.1" font-weight="bold" font-style="normal" text-anchor="middle" fill="#000" >30d</text>
<text x="331.53" y="526.3" font-size="10.1" font-weight="bold" font-style="normal" text-anchor="middle" fill="#000" >60d</text>
<text transform="translate(250.91,442.2) rotate(-90)" font-size="9.05" font-weight="bold" text-anchor="middle">Relative abundance (rpmr)</text>
<rect x="291.4" y="351.6" width="31.2" height="14" rx="0.5" fill="#fff" stroke="#2a2a2a" stroke-width="0.85"/>
<text x="307" y="361.87" font-size="9.9" font-weight="bold" font-style="normal" text-anchor="middle" fill="#000" >1.8.1.2</text>
<rect x="276" y="371.3" width="11.3" height="6.5" fill="#6fce6b"/>
<text x="290" y="377.16" font-size="8.7" font-weight="bold" font-style="italic" text-anchor="start" fill="#000" letter-spacing="0.2">cysJ</text>
<rect x="308.4" y="371.3" width="11.8" height="6.5" fill="#a8e4a4"/>
<text x="323.2" y="377.16" font-size="8.7" font-weight="bold" font-style="italic" text-anchor="start" fill="#000" letter-spacing="0.2">cysI</text>
<rect x="380.23" y="498.5" width="19.87" height="17.9" fill="#6fce6b"/>
<rect x="404.76" y="488.94" width="19.87" height="27.46" fill="#6fce6b"/>
<rect x="429.3" y="380.33" width="19.87" height="136.07" fill="#6fce6b"/>
<rect x="377.9" y="369.3" width="73.6" height="147.1" fill="none" stroke="#2e2e2e" stroke-width="0.85"/>
<line x1="376" y1="516.4" x2="377.9" y2="516.4" stroke="#262626" stroke-width="0.8"/>
<text x="375.5" y="519.44" font-size="9.2" font-weight="bold" font-style="normal" text-anchor="end" fill="#000" >0</text>
<line x1="376" y1="491.88" x2="377.9" y2="491.88" stroke="#262626" stroke-width="0.8"/>
<text x="375.5" y="494.92" font-size="9.2" font-weight="bold" font-style="normal" text-anchor="end" fill="#000" >10</text>
<line x1="376" y1="467.37" x2="377.9" y2="467.37" stroke="#262626" stroke-width="0.8"/>
<text x="375.5" y="470.4" font-size="9.2" font-weight="bold" font-style="normal" text-anchor="end" fill="#000" >20</text>
<line x1="376" y1="442.85" x2="377.9" y2="442.85" stroke="#262626" stroke-width="0.8"/>
<text x="375.5" y="445.89" font-size="9.2" font-weight="bold" font-style="normal" text-anchor="end" fill="#000" >30</text>
<line x1="376" y1="418.33" x2="377.9" y2="418.33" stroke="#262626" stroke-width="0.8"/>
<text x="375.5" y="421.37" font-size="9.2" font-weight="bold" font-style="normal" text-anchor="end" fill="#000" >40</text>
<line x1="376" y1="393.82" x2="377.9" y2="393.82" stroke="#262626" stroke-width="0.8"/>
<text x="375.5" y="396.85" font-size="9.2" font-weight="bold" font-style="normal" text-anchor="end" fill="#000" >50</text>
<line x1="376" y1="369.3" x2="377.9" y2="369.3" stroke="#262626" stroke-width="0.8"/>
<text x="375.5" y="372.34" font-size="9.2" font-weight="bold" font-style="normal" text-anchor="end" fill="#000" >60</text>
<text x="390.17" y="526.3" font-size="10.1" font-weight="bold" font-style="normal" text-anchor="middle" fill="#000" >0d</text>
<text x="414.7" y="526.3" font-size="10.1" font-weight="bold" font-style="normal" text-anchor="middle" fill="#000" >30d</text>
<text x="439.23" y="526.3" font-size="10.1" font-weight="bold" font-style="normal" text-anchor="middle" fill="#000" >60d</text>
<text transform="translate(364.11,442.4) rotate(-90)" font-size="9.05" font-weight="bold" text-anchor="middle">Relative abundance (rpmr)</text>
<rect x="400.1" y="352.2" width="29.8" height="13.4" rx="0.5" fill="#fff" stroke="#2a2a2a" stroke-width="0.85"/>
<text x="415" y="362.17" font-size="9.9" font-weight="bold" font-style="normal" text-anchor="middle" fill="#000" >1.8.7.1</text>
<rect x="383.4" y="371.3" width="11.6" height="6.5" fill="#6fce6b"/>
<text x="398" y="377.16" font-size="8.7" font-weight="bold" font-style="italic" text-anchor="start" fill="#000" letter-spacing="0.2">sir</text>
<rect x="489.24" y="509.21" width="19.98" height="7.19" fill="#a8e4a4"/>
<rect x="489.24" y="512.9" width="19.98" height="3.5" fill="#6fce6b"/>
<rect x="513.91" y="394.06" width="19.98" height="122.34" fill="#a8e4a4"/>
<rect x="513.91" y="455.25" width="19.98" height="61.15" fill="#6fce6b"/>
<rect x="538.58" y="446.39" width="19.98" height="70.01" fill="#a8e4a4"/>
<rect x="538.58" y="481.4" width="19.98" height="35" fill="#6fce6b"/>
<rect x="486.9" y="368.7" width="74" height="147.7" fill="none" stroke="#2e2e2e" stroke-width="0.85"/>
<line x1="485" y1="516.4" x2="486.9" y2="516.4" stroke="#262626" stroke-width="0.8"/>
<text x="484.5" y="519.44" font-size="9.2" font-weight="bold" font-style="normal" text-anchor="end" fill="#000" >0</text>
<line x1="485" y1="491.78" x2="486.9" y2="491.78" stroke="#262626" stroke-width="0.8"/>
<text x="484.5" y="494.82" font-size="9.2" font-weight="bold" font-style="normal" text-anchor="end" fill="#000" >50</text>
<line x1="485" y1="467.17" x2="486.9" y2="467.17" stroke="#262626" stroke-width="0.8"/>
<text x="484.5" y="470.2" font-size="9.2" font-weight="bold" font-style="normal" text-anchor="end" fill="#000" >100</text>
<line x1="485" y1="442.55" x2="486.9" y2="442.55" stroke="#262626" stroke-width="0.8"/>
<text x="484.5" y="445.59" font-size="9.2" font-weight="bold" font-style="normal" text-anchor="end" fill="#000" >150</text>
<line x1="485" y1="417.93" x2="486.9" y2="417.93" stroke="#262626" stroke-width="0.8"/>
<text x="484.5" y="420.97" font-size="9.2" font-weight="bold" font-style="normal" text-anchor="end" fill="#000" >200</text>
<line x1="485" y1="393.32" x2="486.9" y2="393.32" stroke="#262626" stroke-width="0.8"/>
<text x="484.5" y="396.35" font-size="9.2" font-weight="bold" font-style="normal" text-anchor="end" fill="#000" >250</text>
<line x1="485" y1="368.7" x2="486.9" y2="368.7" stroke="#262626" stroke-width="0.8"/>
<text x="484.5" y="371.74" font-size="9.2" font-weight="bold" font-style="normal" text-anchor="end" fill="#000" >300</text>
<text x="499.23" y="526.3" font-size="10.1" font-weight="bold" font-style="normal" text-anchor="middle" fill="#000" >0d</text>
<text x="523.9" y="526.3" font-size="10.1" font-weight="bold" font-style="normal" text-anchor="middle" fill="#000" >30d</text>
<text x="548.57" y="526.3" font-size="10.1" font-weight="bold" font-style="normal" text-anchor="middle" fill="#000" >60d</text>
<text transform="translate(468.01,442.2) rotate(-90)" font-size="9.05" font-weight="bold" text-anchor="middle">Relative abundance (rpmr)</text>
<rect x="505.4" y="352.2" width="35.9" height="13.4" rx="0.5" fill="#fff" stroke="#2a2a2a" stroke-width="0.85"/>
<text x="523.35" y="362.17" font-size="9.9" font-weight="bold" font-style="normal" text-anchor="middle" fill="#000" >1.8.99.2</text>
<rect x="488.9" y="370.7" width="11.3" height="6.5" fill="#a8e4a4"/>
<text x="503.3" y="376.56" font-size="8.7" font-weight="bold" font-style="italic" text-anchor="start" fill="#000" letter-spacing="0.2">aprB</text>
<rect x="528" y="370.7" width="10.9" height="6.5" fill="#6fce6b"/>
<text x="542" y="376.56" font-size="8.7" font-weight="bold" font-style="italic" text-anchor="start" fill="#000" letter-spacing="0.2">aprA</text>
<rect x="600.84" y="429.7" width="19.93" height="86.7" fill="#a8c192"/>
<rect x="600.84" y="473.11" width="19.93" height="43.29" fill="#b5f98f"/>
<rect x="600.84" y="475.5" width="19.93" height="40.9" fill="#a8e4a4"/>
<rect x="625.44" y="397" width="19.93" height="119.4" fill="#a8c192"/>
<rect x="625.44" y="459.69" width="19.93" height="56.71" fill="#b5f98f"/>
<rect x="625.44" y="482.3" width="19.93" height="34.1" fill="#a8e4a4"/>
<rect x="650.04" y="386.08" width="19.93" height="130.32" fill="#a8c192"/>
<rect x="650.04" y="450.9" width="19.93" height="65.5" fill="#b5f98f"/>
<rect x="650.04" y="482.3" width="19.93" height="34.1" fill="#a8e4a4"/>
<rect x="598.5" y="369.3" width="73.8" height="147.1" fill="none" stroke="#2e2e2e" stroke-width="0.85"/>
<line x1="596.6" y1="516.4" x2="598.5" y2="516.4" stroke="#262626" stroke-width="0.8"/>
<text x="596.1" y="519.44" font-size="9.2" font-weight="bold" font-style="normal" text-anchor="end" fill="#000" >0</text>
<line x1="596.6" y1="488.89" x2="598.5" y2="488.89" stroke="#262626" stroke-width="0.8"/>
<text x="596.1" y="491.92" font-size="9.2" font-weight="bold" font-style="normal" text-anchor="end" fill="#000" >150</text>
<line x1="596.6" y1="461.38" x2="598.5" y2="461.38" stroke="#262626" stroke-width="0.8"/>
<text x="596.1" y="464.41" font-size="9.2" font-weight="bold" font-style="normal" text-anchor="end" fill="#000" >300</text>
<line x1="596.6" y1="433.86" x2="598.5" y2="433.86" stroke="#262626" stroke-width="0.8"/>
<text x="596.1" y="436.9" font-size="9.2" font-weight="bold" font-style="normal" text-anchor="end" fill="#000" >450</text>
<line x1="596.6" y1="406.35" x2="598.5" y2="406.35" stroke="#262626" stroke-width="0.8"/>
<text x="596.1" y="409.39" font-size="9.2" font-weight="bold" font-style="normal" text-anchor="end" fill="#000" >600</text>
<line x1="596.6" y1="378.84" x2="598.5" y2="378.84" stroke="#262626" stroke-width="0.8"/>
<text x="596.1" y="381.87" font-size="9.2" font-weight="bold" font-style="normal" text-anchor="end" fill="#000" >750</text>
<text x="610.8" y="526.3" font-size="10.1" font-weight="bold" font-style="normal" text-anchor="middle" fill="#000" >0d</text>
<text x="635.4" y="526.3" font-size="10.1" font-weight="bold" font-style="normal" text-anchor="middle" fill="#000" >30d</text>
<text x="660" y="526.3" font-size="10.1" font-weight="bold" font-style="normal" text-anchor="middle" fill="#000" >60d</text>
<text transform="translate(579.42,442.2) rotate(-90)" font-size="9.05" font-weight="bold" text-anchor="middle">Relative abundance (rpmr)</text>
<rect x="622.2" y="352.8" width="31.3" height="13.8" rx="0.5" fill="#fff" stroke="#2a2a2a" stroke-width="0.85"/>
<text x="637.85" y="363.1" font-size="10.3" font-weight="bold" font-style="normal" text-anchor="middle" fill="#000" >2.7.7.4</text>
<rect x="598.9" y="370.7" width="10.3" height="6.2" fill="#a8e4a4"/>
<text x="611.9" y="375.66" font-size="6.2" font-weight="bold" font-style="italic" text-anchor="start" fill="#000" letter-spacing="0.2">cysNC</text>
<rect x="638" y="370.7" width="10.2" height="6.2" fill="#b5f98f"/>
<text x="650.9" y="376.02" font-size="7.4" font-weight="bold" font-style="italic" text-anchor="start" fill="#000" letter-spacing="0.2">cysN</text>
<rect x="598.9" y="379.5" width="10.3" height="6.2" fill="#6fce6b"/>
<text x="611.9" y="385" font-size="8.0" font-weight="bold" font-style="italic" text-anchor="start" fill="#000" letter-spacing="0.2">PAPSS</text>
<rect x="598.9" y="388.2" width="10.3" height="6.1" fill="#a8c192"/>
<text x="611.9" y="393.65" font-size="8.0" font-weight="bold" font-style="italic" text-anchor="start" fill="#000" letter-spacing="0.2">cysD</text>
<rect x="598.9" y="397" width="10.3" height="6.2" fill="#a6ceaa"/>
<text x="611.9" y="402.5" font-size="8.0" font-weight="bold" font-style="italic" text-anchor="start" fill="#000" letter-spacing="0.2">sat</text>
<rect x="624.61" y="576.05" width="19.98" height="109.05" fill="#a8e4a4"/>
<rect x="624.61" y="617.63" width="19.98" height="67.47" fill="#6fce6b"/>
<rect x="649.28" y="573.4" width="19.98" height="111.7" fill="#a8e4a4"/>
<rect x="649.28" y="618.66" width="19.98" height="66.44" fill="#6fce6b"/>
<rect x="597.6" y="538" width="74" height="147.1" fill="none" stroke="#2e2e2e" stroke-width="0.85"/>
<line x1="595.7" y1="685.1" x2="597.6" y2="685.1" stroke="#262626" stroke-width="0.8"/>
<text x="595.2" y="688.14" font-size="9.2" font-weight="bold" font-style="normal" text-anchor="end" fill="#000" >0</text>
<line x1="595.7" y1="660.58" x2="597.6" y2="660.58" stroke="#262626" stroke-width="0.8"/>
<text x="595.2" y="663.62" font-size="9.2" font-weight="bold" font-style="normal" text-anchor="end" fill="#000" >50</text>
<line x1="595.7" y1="636.07" x2="597.6" y2="636.07" stroke="#262626" stroke-width="0.8"/>
<text x="595.2" y="639.1" font-size="9.2" font-weight="bold" font-style="normal" text-anchor="end" fill="#000" >100</text>
<line x1="595.7" y1="611.55" x2="597.6" y2="611.55" stroke="#262626" stroke-width="0.8"/>
<text x="595.2" y="614.59" font-size="9.2" font-weight="bold" font-style="normal" text-anchor="end" fill="#000" >150</text>
<line x1="595.7" y1="587.03" x2="597.6" y2="587.03" stroke="#262626" stroke-width="0.8"/>
<text x="595.2" y="590.07" font-size="9.2" font-weight="bold" font-style="normal" text-anchor="end" fill="#000" >200</text>
<line x1="595.7" y1="562.52" x2="597.6" y2="562.52" stroke="#262626" stroke-width="0.8"/>
<text x="595.2" y="565.55" font-size="9.2" font-weight="bold" font-style="normal" text-anchor="end" fill="#000" >250</text>
<line x1="595.7" y1="538" x2="597.6" y2="538" stroke="#262626" stroke-width="0.8"/>
<text x="595.2" y="541.04" font-size="9.2" font-weight="bold" font-style="normal" text-anchor="end" fill="#000" >300</text>
<text x="609.93" y="695" font-size="10.1" font-weight="bold" font-style="normal" text-anchor="middle" fill="#000" >0d</text>
<text x="634.6" y="695" font-size="10.1" font-weight="bold" font-style="normal" text-anchor="middle" fill="#000" >30d</text>
<text x="659.27" y="695" font-size="10.1" font-weight="bold" font-style="normal" text-anchor="middle" fill="#000" >60d</text>
<text transform="translate(579.01,611.2) rotate(-90)" font-size="9.05" font-weight="bold" text-anchor="middle">Relative abundance (rpmr)</text>
<rect x="600.2" y="539.2" width="11.6" height="6.6" fill="#6fce6b"/>
<text x="614.6" y="545.11" font-size="8.7" font-weight="bold" font-style="italic" text-anchor="start" fill="#000" letter-spacing="0.2">soxY</text>
<rect x="600.2" y="549.1" width="11.6" height="6.6" fill="#a8e4a4"/>
<text x="614.6" y="555.01" font-size="8.7" font-weight="bold" font-style="italic" text-anchor="start" fill="#000" letter-spacing="0.2">soxZ</text>
<rect x="624.84" y="713.09" width="19.93" height="136.01" fill="#6fce6b"/>
<rect x="649.44" y="765.06" width="19.93" height="84.04" fill="#6fce6b"/>
<rect x="597.9" y="702.4" width="73.8" height="146.7" fill="none" stroke="#2e2e2e" stroke-width="0.85"/>
<line x1="596" y1="849.1" x2="597.9" y2="849.1" stroke="#262626" stroke-width="0.8"/>
<text x="595.5" y="852.14" font-size="9.2" font-weight="bold" font-style="normal" text-anchor="end" fill="#000" >0</text>
<line x1="596" y1="817.66" x2="597.9" y2="817.66" stroke="#262626" stroke-width="0.8"/>
<text x="595.5" y="820.7" font-size="9.2" font-weight="bold" font-style="normal" text-anchor="end" fill="#000" >15</text>
<line x1="596" y1="786.23" x2="597.9" y2="786.23" stroke="#262626" stroke-width="0.8"/>
<text x="595.5" y="789.26" font-size="9.2" font-weight="bold" font-style="normal" text-anchor="end" fill="#000" >30</text>
<line x1="596" y1="754.79" x2="597.9" y2="754.79" stroke="#262626" stroke-width="0.8"/>
<text x="595.5" y="757.83" font-size="9.2" font-weight="bold" font-style="normal" text-anchor="end" fill="#000" >45</text>
<line x1="596" y1="723.36" x2="597.9" y2="723.36" stroke="#262626" stroke-width="0.8"/>
<text x="595.5" y="726.39" font-size="9.2" font-weight="bold" font-style="normal" text-anchor="end" fill="#000" >60</text>
<text x="610.2" y="858.2" font-size="10.1" font-weight="bold" font-style="normal" text-anchor="middle" fill="#000" >0d</text>
<text x="634.8" y="858.2" font-size="10.1" font-weight="bold" font-style="normal" text-anchor="middle" fill="#000" >30d</text>
<text x="659.4" y="858.2" font-size="10.1" font-weight="bold" font-style="normal" text-anchor="middle" fill="#000" >60d</text>
<text transform="translate(583.51,775.5) rotate(-90)" font-size="9.05" font-weight="bold" text-anchor="middle">Relative abundance (rpmr)</text>
<rect x="600.2" y="704.7" width="11.7" height="6.6" fill="#6fce6b"/>
<text x="614.8" y="710.61" font-size="8.7" font-weight="bold" font-style="italic" text-anchor="start" fill="#000" letter-spacing="0.2">soxB</text>
<rect x="86.35" y="727.98" width="20.01" height="121.42" fill="#a8e4a4"/>
<rect x="86.35" y="788.64" width="20.01" height="60.76" fill="#6fce6b"/>
<rect x="111.05" y="776" width="20.01" height="73.4" fill="#a8e4a4"/>
<rect x="111.05" y="812.65" width="20.01" height="36.75" fill="#6fce6b"/>
<rect x="59.3" y="702.4" width="74.1" height="147" fill="none" stroke="#2e2e2e" stroke-width="0.85"/>
<line x1="57.4" y1="849.4" x2="59.3" y2="849.4" stroke="#262626" stroke-width="0.8"/>
<text x="56.9" y="852.44" font-size="9.2" font-weight="bold" font-style="normal" text-anchor="end" fill="#000" >0</text>
<line x1="57.4" y1="824.9" x2="59.3" y2="824.9" stroke="#262626" stroke-width="0.8"/>
<text x="56.9" y="827.94" font-size="9.2" font-weight="bold" font-style="normal" text-anchor="end" fill="#000" >50</text>
<line x1="57.4" y1="800.4" x2="59.3" y2="800.4" stroke="#262626" stroke-width="0.8"/>
<text x="56.9" y="803.44" font-size="9.2" font-weight="bold" font-style="normal" text-anchor="end" fill="#000" >100</text>
<line x1="57.4" y1="775.9" x2="59.3" y2="775.9" stroke="#262626" stroke-width="0.8"/>
<text x="56.9" y="778.94" font-size="9.2" font-weight="bold" font-style="normal" text-anchor="end" fill="#000" >150</text>
<line x1="57.4" y1="751.4" x2="59.3" y2="751.4" stroke="#262626" stroke-width="0.8"/>
<text x="56.9" y="754.44" font-size="9.2" font-weight="bold" font-style="normal" text-anchor="end" fill="#000" >200</text>
<line x1="57.4" y1="726.9" x2="59.3" y2="726.9" stroke="#262626" stroke-width="0.8"/>
<text x="56.9" y="729.94" font-size="9.2" font-weight="bold" font-style="normal" text-anchor="end" fill="#000" >250</text>
<line x1="57.4" y1="702.4" x2="59.3" y2="702.4" stroke="#262626" stroke-width="0.8"/>
<text x="56.9" y="705.44" font-size="9.2" font-weight="bold" font-style="normal" text-anchor="end" fill="#000" >300</text>
<text x="71.65" y="858" font-size="10.1" font-weight="bold" font-style="normal" text-anchor="middle" fill="#000" >0d</text>
<text x="96.35" y="858" font-size="10.1" font-weight="bold" font-style="normal" text-anchor="middle" fill="#000" >30d</text>
<text x="121.05" y="858" font-size="10.1" font-weight="bold" font-style="normal" text-anchor="middle" fill="#000" >60d</text>
<text transform="translate(40.42,776) rotate(-90)" font-size="9.05" font-weight="bold" text-anchor="middle">Relative abundance (rpmr)</text>
<rect x="61.3" y="704.7" width="11.5" height="6.5" fill="#6fce6b"/>
<text x="75.8" y="710.56" font-size="8.7" font-weight="bold" font-style="italic" text-anchor="start" fill="#000" letter-spacing="0.2">soxA</text>
<rect x="61.3" y="714.6" width="11.5" height="6.5" fill="#a8e4a4"/>
<text x="75.8" y="720.46" font-size="8.7" font-weight="bold" font-style="italic" text-anchor="start" fill="#000" letter-spacing="0.2">soxX</text>
<rect x="203.7" y="608" width="39.8" height="15" fill="#a9d48e"/>
<text x="223.6" y="619.63" font-size="11.5" font-weight="bold" text-anchor="middle">1.8.2.3</text>
<rect x="293.5" y="608" width="45.6" height="15" fill="#a9d48e"/>
<text x="316.3" y="619.63" font-size="11.5" font-weight="bold" text-anchor="middle">1.8.99.5</text>
<rect x="340.8" y="608" width="39.5" height="15" fill="#a9d48e"/>
<text x="360.55" y="619.63" font-size="11.5" font-weight="bold" text-anchor="middle">1.8.1.2</text>
<rect x="293.5" y="627.4" width="45.6" height="14.1" fill="#f4ebb0"/>
<text x="316.3" y="638.88" font-size="11.5" font-weight="bold" text-anchor="middle">Asr</text>
<rect x="340.8" y="627.4" width="39.5" height="14.1" fill="#a9d48e"/>
<text x="360.55" y="638.88" font-size="11.5" font-weight="bold" text-anchor="middle">1.8.7.1</text>
<rect x="401.2" y="553.2" width="14.5" height="45.5" fill="#a9d48e"/>
<text transform="translate(412.25,575.95) rotate(-90)" font-size="11.5" font-weight="bold" text-anchor="middle">1.8.99.2</text>
<rect x="522.6" y="553.2" width="14.5" height="45.5" fill="#f4ebb0"/>
<text transform="translate(533.64,575.95) rotate(-90)" font-size="11.5" font-weight="bold" text-anchor="middle">2.7.7.5</text>
<rect x="540.3" y="553.2" width="15" height="45.5" fill="#a9d48e"/>
<text transform="translate(551.59,575.95) rotate(-90)" font-size="11.5" font-weight="bold" text-anchor="middle">2.7.7.4</text>
<path d="M244.8 625 L200 625" fill="none" stroke="#000" stroke-width="1.75" />
<polygon points="195.4,625 202.7,621.35 202.7,628.65" fill="#000"/>
<path d="M287.5 625 L387 625" fill="none" stroke="#000" stroke-width="1.75" />
<polygon points="283,625 290.3,621.35 290.3,628.65" fill="#000"/>
<polygon points="391,625 383.7,621.35 383.7,628.65" fill="#000"/>
<path d="M263.6 634.1 L263.6 647.5" fill="none" stroke="#000" stroke-width="1.75" stroke-dasharray="3.2 1.8" />
<polygon points="263.6,652.6 259.95,645.3 267.25,645.3" fill="#000"/>
<path d="M289.4 661.7 L350.5 661.7" fill="none" stroke="#000" stroke-width="1.75" />
<path d="M387 661.7 L540.5 661.7 L540.5 638" fill="none" stroke="#000" stroke-width="1.75" />
<polygon points="540.5,633.5 536.85,640.8 544.15,640.8" fill="#000"/>
<path d="M429 624.7 L517 624.7" fill="none" stroke="#000" stroke-width="1.75" />
<rect x="451.8" y="601.2" width="41" height="14.5" fill="#f4ebb0"/>
<text x="472.3" y="612.88" font-size="11.5" font-weight="bold" text-anchor="middle">1.8.2.1</text>
<rect x="451.8" y="618" width="41" height="13.8" fill="#f4ebb0"/>
<text x="472.3" y="629.33" font-size="11.5" font-weight="bold" text-anchor="middle">1.8.3.1</text>
<rect x="451.8" y="633.1" width="41" height="13.8" fill="#d6d6d6"/>
<text x="472.3" y="644.43" font-size="11.5" font-weight="bold" text-anchor="middle">1.8.5.6</text>
<polygon points="521.3,624.7 514,621.05 514,628.35" fill="#000"/>
<path d="M408.3 610 L408.3 542.1 L448 542.1" fill="none" stroke="#000" stroke-width="1.75" />
<polygon points="408.3,615.2 404.65,607.9 411.95,607.9" fill="#000"/>
<polygon points="453.4,542.1 446.1,538.45 446.1,545.75" fill="#000"/>
<path d="M497 542.1 L538.8 542.1 L538.8 609" fill="none" stroke="#000" stroke-width="1.75" />
<polygon points="491.7,542.1 499,538.45 499,545.75" fill="#000"/>
<polygon points="538.8,614.6 535.15,607.3 542.45,607.3" fill="#000"/>
<rect x="401.2" y="553.2" width="14.5" height="45.5" fill="#a9d48e"/>
<text transform="translate(412.25,575.95) rotate(-90)" font-size="11.5" font-weight="bold" text-anchor="middle">1.8.99.2</text>
<rect x="522.6" y="553.2" width="14.5" height="45.5" fill="#f4ebb0"/>
<text transform="translate(533.64,575.95) rotate(-90)" font-size="11.5" font-weight="bold" text-anchor="middle">2.7.7.5</text>
<rect x="540.3" y="553.2" width="15" height="45.5" fill="#a9d48e"/>
<text transform="translate(551.59,575.95) rotate(-90)" font-size="11.5" font-weight="bold" text-anchor="middle">2.7.7.4</text>
<rect x="157.5" y="616.3" width="37.9" height="17.8" rx="3.2" ry="3.2" fill="#fff" stroke="#000" stroke-width="1.35"/>
<text class="b" x="176.45" y="630.12" font-size="12.3" font-weight="bold" text-anchor="middle"><tspan dy="0" font-size="12.3">S</tspan><tspan dy="-4.92" font-size="7.38">0</tspan></text>
<rect x="245.2" y="616.2" width="37" height="17.2" rx="3.2" ry="3.2" fill="#fff" stroke="#000" stroke-width="1.35"/>
<text class="b" x="263.7" y="629.72" font-size="12.3" font-weight="bold" text-anchor="middle"><tspan dy="0" font-size="12.3">S</tspan><tspan dy="-4.92" font-size="7.38">2-</tspan></text>
<rect x="238" y="652.6" width="51.4" height="17.8" rx="3.2" ry="3.2" fill="#fff" stroke="#000" stroke-width="1.35"/>
<text class="b" x="263.7" y="666.42" font-size="12.3" font-weight="bold" text-anchor="middle"><tspan dy="0" font-size="12.3">S</tspan><tspan dy="2.71" font-size="8">2</tspan><tspan dy="-2.71" font-size="12.3">O</tspan><tspan dy="2.71" font-size="8">3</tspan><tspan dy="-7.63" font-size="7.38">2-</tspan></text>
<rect x="391.2" y="615.5" width="37.4" height="17.7" rx="3.2" ry="3.2" fill="#fff" stroke="#000" stroke-width="1.35"/>
<text class="b" x="409.9" y="629.27" font-size="12.3" font-weight="bold" text-anchor="middle"><tspan dy="0" font-size="12.3">SO</tspan><tspan dy="2.71" font-size="8">3</tspan><tspan dy="-7.63" font-size="7.38">2-</tspan></text>
<rect x="521.9" y="615.1" width="37.3" height="17.7" rx="3.2" ry="3.2" fill="#fff" stroke="#000" stroke-width="1.35"/>
<text class="b" x="540.55" y="628.87" font-size="12.3" font-weight="bold" text-anchor="middle"><tspan dy="0" font-size="12.3">SO</tspan><tspan dy="2.71" font-size="8">4</tspan><tspan dy="-7.63" font-size="7.38">2-</tspan></text>
<rect x="453.9" y="533.6" width="37.3" height="17" rx="3.2" ry="3.2" fill="#fff" stroke="#000" stroke-width="1.35"/>
<text class="b" x="472.55" y="547.02" font-size="12.3" font-weight="bold" text-anchor="middle"><tspan dy="0" font-size="12.3">APS</tspan></text>
<rect x="350.3" y="654.3" width="36.7" height="15.1" fill="#fff" stroke="#000" stroke-width="0.9"/>
<text x="368.6" y="666" font-size="12" font-weight="bold" font-style="normal" text-anchor="middle" fill="#000" >Sox</text>
<path d="M350.3 669.4 L157.4 682.8" fill="none" stroke="#a3d888" stroke-width="1.45" stroke-dasharray="6.3 4.1" />
<path d="M387 669.4 L560 682.8" fill="none" stroke="#a3d888" stroke-width="1.45" stroke-dasharray="6.3 4.1" />
<rect x="157.4" y="682.8" width="402.6" height="131" fill="none" stroke="#a3d888" stroke-width="1.45" stroke-dasharray="6.3 4.1"/>
<rect x="220.5" y="714.4" width="37" height="14.4" fill="#a9d48e"/>
<text x="239" y="726.03" font-size="11.5" font-weight="bold" text-anchor="middle">SoxA</text>
<rect x="220.5" y="731.5" width="37" height="14.1" fill="#a9d48e"/>
<text x="239" y="742.98" font-size="11.5" font-weight="bold" text-anchor="middle">SoxX</text>
<rect x="272.6" y="689.3" width="35.9" height="14.1" fill="#a9d48e"/>
<text x="290.55" y="700.78" font-size="11.5" font-weight="bold" text-anchor="middle">SoxY</text>
<rect x="272.6" y="704.5" width="35.9" height="13.9" fill="#a9d48e"/>
<text x="290.55" y="715.88" font-size="11.5" font-weight="bold" text-anchor="middle">SoxZ</text>
<path d="M210.4 729.8 L266 729.8" fill="none" stroke="#000" stroke-width="1.75" />
<polygon points="270.2,729.8 262.9,726.15 262.9,733.45" fill="#000"/>
<path d="M213.8 729.8 L213.8 777.5" fill="none" stroke="#000" stroke-width="1.75" />
<path d="M476 776.9 L476 751.5 L225.6 751.5 L225.6 772.5" fill="none" stroke="#000" stroke-width="1.75" stroke-dasharray="4.2 2.4" />
<polygon points="225.6,777.5 221.95,770.2 229.25,770.2" fill="#000"/>
<path d="M368.9 729.6 L513 729.6" fill="none" stroke="#000" stroke-width="1.75" />
<rect x="413.2" y="722.3" width="36.9" height="14.4" fill="#a9d48e"/>
<text x="431.65" y="733.93" font-size="11.5" font-weight="bold" text-anchor="middle">SoxB</text>
<polygon points="517.5,729.6 510.2,725.95 510.2,733.25" fill="#000"/>
<path d="M494.5 729.6 L494.5 772.5" fill="none" stroke="#000" stroke-width="1.75" />
<polygon points="494.5,776.9 490.85,769.6 498.15,769.6" fill="#000"/>
<path d="M455.8 786.3 L408 786.3" fill="none" stroke="#000" stroke-width="1.75" />
<rect x="413.2" y="770.1" width="36.9" height="14.8" fill="#f4ebb0"/>
<text x="431.65" y="781.93" font-size="11.5" font-weight="bold" text-anchor="middle">SoxC</text>
<rect x="413.2" y="786.9" width="36.9" height="14.1" fill="#d6d6d6"/>
<text x="431.65" y="798.38" font-size="11.5" font-weight="bold" text-anchor="middle">SoxD</text>
<path d="M455.8 786.3 L408 786.3" fill="none" stroke="#000" stroke-width="1.75" />
<polygon points="403.3,786.3 410.6,782.65 410.6,789.95" fill="#000"/>
<path d="M320.2 786.3 L252.5 786.3" fill="none" stroke="#000" stroke-width="1.75" />
<rect x="269.2" y="779.2" width="36.9" height="14.1" fill="#a9d48e"/>
<text x="287.65" y="790.68" font-size="11.5" font-weight="bold" text-anchor="middle">SoxB</text>
<polygon points="248,786.3 255.3,782.65 255.3,789.95" fill="#000"/>
<path d="M265.2 786.3 L265.2 806 L537.6 806 L537.6 743.5" fill="none" stroke="#000" stroke-width="1.75" />
<polygon points="537.6,737.9 533.95,745.2 541.25,745.2" fill="#000"/>
<rect x="159.4" y="721.1" width="51" height="17.8" rx="3.2" ry="3.2" fill="#fff" stroke="#000" stroke-width="1.35"/>
<text class="b" x="184.9" y="734.92" font-size="12.3" font-weight="bold" text-anchor="middle"><tspan dy="0" font-size="12.3">S</tspan><tspan dy="2.71" font-size="8">2</tspan><tspan dy="-2.71" font-size="12.3">O</tspan><tspan dy="2.71" font-size="8">3</tspan><tspan dy="-7.63" font-size="7.38">2-</tspan></text>
<rect x="270.2" y="721.1" width="98.7" height="17.8" rx="3.2" ry="3.2" fill="#fff" stroke="#000" stroke-width="1.35"/>
<text class="b" x="319.55" y="734.92" font-size="12.3" font-weight="bold" text-anchor="middle"><tspan dy="0" font-size="12.3">SoxYZ-S-S-SO</tspan><tspan dy="2.71" font-size="8">3</tspan></text>
<rect x="518" y="719.8" width="38.6" height="18.1" rx="3.2" ry="3.2" fill="#fff" stroke="#000" stroke-width="1.35"/>
<text class="b" x="537.3" y="733.77" font-size="12.3" font-weight="bold" text-anchor="middle"><tspan dy="0" font-size="12.3">SO</tspan><tspan dy="2.71" font-size="8">4</tspan><tspan dy="-7.63" font-size="7.38">2-</tspan></text>
<rect x="180.2" y="777.5" width="67.8" height="17.5" rx="3.2" ry="3.2" fill="#fff" stroke="#000" stroke-width="1.35"/>
<text class="b" x="214.1" y="791.17" font-size="12.3" font-weight="bold" text-anchor="middle"><tspan dy="0" font-size="12.3">SoxYZ-SH</tspan></text>
<rect x="320.2" y="777.5" width="82.9" height="17.5" rx="3.2" ry="3.2" fill="#fff" stroke="#000" stroke-width="1.35"/>
<text class="b" x="361.65" y="791.17" font-size="12.3" font-weight="bold" text-anchor="middle"><tspan dy="0" font-size="12.3">SoxYZ-S-SO</tspan><tspan dy="2.71" font-size="8">3</tspan></text>
<rect x="455.8" y="776.9" width="78" height="18.1" rx="3.2" ry="3.2" fill="#fff" stroke="#000" stroke-width="1.35"/>
<text class="b" x="494.8" y="790.87" font-size="12.3" font-weight="bold" text-anchor="middle"><tspan dy="0" font-size="12.3">SoxYZ-S-SH</tspan></text>
<rect x="25" y="868.1" width="33.9" height="13.9" fill="#f1e9ac"/>
<rect x="25" y="885.2" width="33.9" height="13.9" fill="#d2d2d2"/>
<text x="61.1" y="878.7" font-size="12.2" font-weight="normal" font-style="normal" text-anchor="start" fill="#000" >The relative abundances of genes encoding the enzyme (rpmr &lt; 50).</text>
<text x="61.1" y="895.5" font-size="12.2" font-weight="normal" font-style="normal" text-anchor="start" fill="#000" >The genes encoding the enzyme were not predicted.</text>
</svg>
</body></html>
